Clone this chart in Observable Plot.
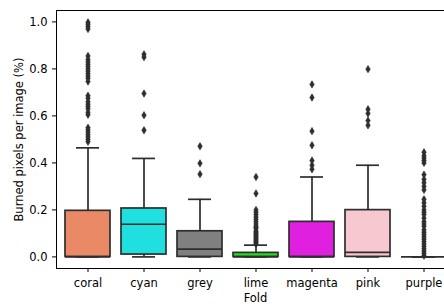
<!DOCTYPE html>
<html>
<head>
<meta charset="utf-8">
<script src="https://cdn.jsdelivr.net/npm/d3@7"></script>
<script src="https://cdn.jsdelivr.net/npm/@observablehq/plot@0.6"></script>
<style>
  html, body { margin: 0; padding: 0; background: white; overflow: hidden; }
  #chart { width: 444px; height: 304px; overflow: hidden; }
  #chart svg { max-width: none !important; height: 304px !important; }
  #chart svg text { font-size: 11.5px; }
</style>
</head>
<body>
<div id="chart"></div>
<script>
// ---- data ----
const folds = ["coral", "cyan", "grey", "lime", "magenta", "pink", "purple"];
const boxColors = ["#E98966", "#20DFDF", "#808080", "#20DF20", "#DF20DF", "#F7C8CF", "#701070"];
const q1 = [0, 0.010, 0, 0, 0, 0, 0];
const median = [0, 0.139, 0.033, 0, 0, 0.019, 0];
const q3 = [0.196, 0.206, 0.109, 0.017, 0.149, 0.199, 0];
const whiskerLow = [0, 0, 0, 0, 0, 0, 0];
const whiskerHigh = [0.464, 0.419, 0.245, 0.050, 0.340, 0.390, 0];

const outliersCoral = [0.49, 0.50, 0.51, 0.52, 0.53, 0.54, 0.55,
  0.605, 0.615, 0.63, 0.64, 0.65, 0.66, 0.675, 0.686,
  0.746, 0.76, 0.77, 0.78, 0.79, 0.80, 0.81, 0.82, 0.83, 0.84, 0.855,
  0.97, 0.98, 0.99, 0.998];
const outliersCyan = [0.539, 0.603, 0.695, 0.85, 0.862];
const outliersGrey = [0.352, 0.398, 0.471];
const outliersLime = [0.055, 0.06, 0.065, 0.07, 0.075, 0.08, 0.085, 0.09, 0.095, 0.10, 0.105,
  0.11, 0.12, 0.125, 0.13, 0.14, 0.15, 0.16, 0.17, 0.18, 0.19, 0.20, 0.27, 0.34];
const outliersMagenta = [0.373, 0.39, 0.41, 0.475, 0.535, 0.678, 0.734];
const outliersPink = [0.56, 0.58, 0.61, 0.628, 0.799];
const outliersPurple = [0.005, 0.015, 0.025, 0.035, 0.045, 0.055, 0.065, 0.075, 0.085, 0.095,
  0.105, 0.115, 0.13, 0.14, 0.15, 0.165, 0.18, 0.19, 0.20, 0.215, 0.23, 0.245,
  0.285, 0.30, 0.315, 0.33, 0.35, 0.40, 0.41, 0.42, 0.43, 0.445];
const outlierLists = [outliersCoral, outliersCyan, outliersGrey, outliersLime, outliersMagenta, outliersPink, outliersPurple];
const yTicks = [0, 0.2, 0.4, 0.6, 0.8, 1.0];

// ---- build tables ----
const rows = folds.map((f, i) => ({
  fold: f, color: boxColors[i], q1: q1[i], med: median[i], q3: q3[i],
  lo: whiskerLow[i], hi: whiskerHigh[i]
}));
const outliers = folds.flatMap((f, i) => outlierLists[i].map(v => ({fold: f, value: v})));

const edge = "#2e2e2e";
const lw = 1.7;
const thinDiamond = {
  draw(ctx, size) {
    const r = Math.sqrt(size / Math.PI);
    const w = r * 0.6;
    ctx.moveTo(0, -r); ctx.lineTo(w, 0); ctx.lineTo(0, r); ctx.lineTo(-w, 0); ctx.closePath();
  }
};

const chart = Plot.plot({
  width: 454,
  height: 304,
  marginLeft: 56,
  marginRight: 0,
  marginTop: 10,
  marginBottom: 36,
  style: {fontFamily: "DejaVu Sans", fontSize: "11.5px", color: "black", background: "white", overflow: "visible"},
  x: {domain: folds, paddingInner: 0.2, paddingOuter: 0.1, label: null},
  y: {domain: [-0.0494, 1.0485], label: null},
  color: {type: "identity"},
  marks: [
    Plot.ruleX(rows, {x: "fold", y1: "q3", y2: "hi", stroke: edge, strokeWidth: lw}),
    Plot.ruleX(rows, {x: "fold", y1: "lo", y2: "q1", stroke: edge, strokeWidth: lw}),
    Plot.tickY(rows, {x: "fold", y: "hi", stroke: edge, strokeWidth: lw, insetLeft: 11, insetRight: 11}),
    Plot.tickY(rows, {x: "fold", y: "lo", stroke: edge, strokeWidth: lw, insetLeft: 11, insetRight: 11}),
    Plot.barY(rows, {x: "fold", y1: "q1", y2: "q3", fill: "color", stroke: edge, strokeWidth: lw}),
    Plot.tickY(rows, {x: "fold", y: "med", stroke: edge, strokeWidth: lw}),
    Plot.dot(outliers, {x: "fold", y: "value", symbol: thinDiamond, r: 3.7, fill: edge, stroke: edge, strokeWidth: 0.6}),
    Plot.frame({stroke: "black", strokeWidth: 1}),
    Plot.axisY({ticks: yTicks, tickFormat: d3.format(".1f"), tickSize: 4, tickPadding: 5, label: null}),
    Plot.axisX({tickSize: 4, tickPadding: 6, label: null}),
    Plot.text(["Fold"], {frameAnchor: "bottom", textAnchor: "middle", dy: 33, text: d => d}),
    Plot.text(["Burned pixels per image (%)"], {frameAnchor: "left", textAnchor: "middle", rotate: -90, dx: -37, text: d => d})
  ]
});
document.getElementById("chart").appendChild(chart);
</script>
</body>
</html>
